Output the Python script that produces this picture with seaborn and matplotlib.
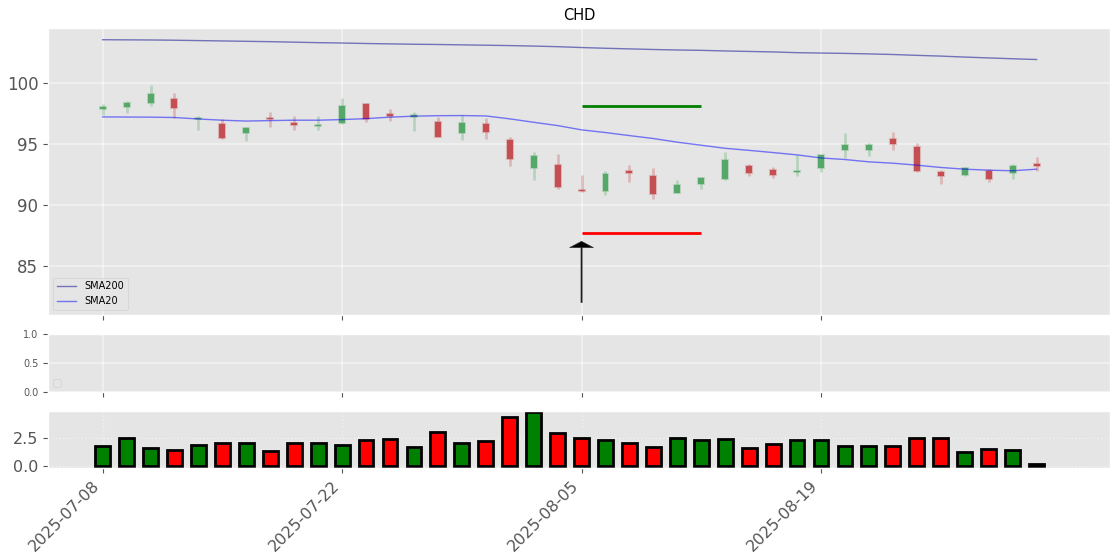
import numpy as np
import pandas as pd
import seaborn as sns
import matplotlib
matplotlib.use('Agg')
import matplotlib.pyplot as plt

# ---- data ----
dates = ['2025-07-08', '2025-07-22', '2025-08-05', '2025-08-19']

opens = [97.90, 98.01, 98.37, 98.69, 97.03, 96.65, 95.89, 97.10, 96.73, 96.45,
         96.70, 98.28, 97.47, 97.25, 96.81, 95.89, 96.65, 95.34, 93.02, 93.30,
         91.20, 91.14, 92.81, 92.40, 90.98, 91.72, 92.13, 93.22, 92.89, 92.70,
         93.05, 94.50, 94.50, 95.42, 94.77, 92.70, 92.45, 92.81, 92.64, 93.35]
closes = [98.05, 98.37, 99.13, 97.98, 97.08, 95.48, 96.32, 97.05, 96.54, 96.50,
          98.09, 97.03, 97.28, 97.30, 95.61, 96.73, 95.97, 93.76, 94.03, 91.47,
          91.15, 92.56, 92.62, 90.93, 91.66, 92.23, 93.71, 92.62, 92.46, 92.76,
          94.09, 94.90, 94.90, 94.99, 92.78, 92.40, 93.02, 92.13, 93.19, 93.19]
highs = [98.31, 98.53, 99.84, 99.18, 97.30, 97.03, 96.40, 97.63, 97.28, 97.28,
         98.75, 98.34, 97.87, 97.63, 97.19, 97.41, 97.14, 95.59, 94.33, 94.17,
         92.45, 92.81, 93.30, 93.05, 92.04, 92.32, 94.33, 93.38, 93.13, 94.09,
         94.14, 95.91, 95.10, 95.99, 95.10, 92.86, 93.13, 92.92, 93.35, 93.95]
lows = [97.36, 97.52, 98.09, 97.17, 96.13, 95.42, 95.23, 96.38, 96.13, 96.13,
        96.67, 96.81, 96.87, 96.05, 95.56, 95.31, 95.40, 93.24, 92.04, 91.31,
        91.09, 90.84, 91.93, 90.49, 90.98, 91.31, 92.07, 92.40, 92.18, 92.40,
        92.70, 93.84, 94.00, 94.50, 92.72, 91.72, 92.40, 91.88, 92.10, 92.81]

sma200 = [103.54, 103.53, 103.52, 103.50, 103.47, 103.44, 103.41, 103.38, 103.34, 103.30,
          103.27, 103.23, 103.20, 103.17, 103.15, 103.12, 103.09, 103.06, 103.02, 102.97,
          102.90, 102.84, 102.79, 102.74, 102.70, 102.67, 102.62, 102.58, 102.54, 102.48,
          102.45, 102.42, 102.38, 102.33, 102.26, 102.20, 102.12, 102.05, 101.98, 101.92]
sma20 = [97.22, 97.21, 97.20, 97.17, 97.05, 96.95, 96.88, 96.92, 96.95, 96.95,
         97.00, 97.08, 97.20, 97.28, 97.32, 97.33, 97.30, 97.06, 96.78, 96.51,
         96.16, 95.94, 95.69, 95.45, 95.15, 94.90, 94.65, 94.48, 94.30, 94.11,
         93.86, 93.73, 93.54, 93.43, 93.27, 93.08, 92.94, 92.86, 92.81, 92.94]

volume = [1.76, 2.50, 1.61, 1.43, 1.85, 2.02, 2.02, 1.34, 2.02, 2.02,
          1.85, 2.32, 2.41, 1.67, 3.01, 2.02, 2.23, 4.35, 4.82, 2.92,
          2.50, 2.32, 2.02, 1.67, 2.50, 2.32, 2.41, 1.61, 1.96, 2.32,
          2.32, 1.79, 1.79, 1.79, 2.50, 2.50, 1.25, 1.52, 1.43, 0.20]
vol_colors = ['green', 'green', 'green', 'red', 'green', 'red', 'green', 'red', 'red', 'green',
              'green', 'red', 'red', 'green', 'red', 'green', 'red', 'red', 'green', 'red',
              'red', 'green', 'red', 'red', 'green', 'green', 'green', 'red', 'red', 'green',
              'green', 'green', 'green', 'red', 'red', 'red', 'green', 'red', 'green', 'black']

signal_idx = 20
signal_end = 25
target_price = 98.09
stop_price = 87.74
arrow_tip = 87.03
arrow_tail = 82.02

# ---- setup ----
plt.style.use('ggplot')
df = pd.DataFrame({'idx': np.arange(len(opens)), 'open': opens, 'close': closes,
                   'high': highs, 'low': lows, 'sma200': sma200, 'sma20': sma20})

fig = plt.figure(figsize=(11.2, 5.6), dpi=100)
ax1 = fig.add_axes([0.0429, 0.4375, 0.9482, 0.5125])
ax2 = fig.add_axes([0.0429, 0.300, 0.9482, 0.1036], sharex=ax1)
ax3 = fig.add_axes([0.0429, 0.1643, 0.9482, 0.1018], sharex=ax1)

# candles
up_c, down_c = '#55a868', '#c44e52'
cols = [up_c if c >= o else down_c for o, c in zip(df['open'], df['close'])]
ax1.vlines(df['idx'], df['low'], df['high'], colors=cols, alpha=0.3, linewidth=2)
body_h = np.maximum(np.abs(df['close'] - df['open']), 0.12)
body_b = np.minimum(df['open'], df['close'])
for x, b, h, c in zip(df['idx'], body_b, body_h, cols):
    ax1.bar(x, h, bottom=b, width=0.25, color=c, edgecolor=matplotlib.colors.to_rgba(c, 0.3),
            linewidth=1.5)

sns.lineplot(data=df, x='idx', y='sma200', ax=ax1, color='darkblue', alpha=0.5,
             linewidth=1, label='SMA200')
sns.lineplot(data=df, x='idx', y='sma20', ax=ax1, color='blue', alpha=0.5,
             linewidth=1, label='SMA20')

ax1.hlines(target_price, signal_idx, signal_end, color='green', linewidth=2)
ax1.hlines(stop_price, signal_idx, signal_end, color='red', linewidth=2)
ax1.annotate('', xy=(signal_idx, arrow_tip), xytext=(signal_idx, arrow_tail),
             arrowprops=dict(facecolor='black', edgecolor='#333333', width=0.8,
                             headwidth=17, headlength=4.5, shrink=0))

ax1.set_title('CHD', fontsize=10.5, color='black')
ax1.set_xlabel('')
ax1.set_ylabel('')
ax1.set_ylim(81.0, 104.5)
ax1.set_yticks([85, 90, 95, 100])
ax1.tick_params(axis='y', labelsize=12)
ax1.tick_params(axis='x', labelbottom=False)
ax1.legend(loc='lower left', fontsize=7)
ax1.grid(True, color='white', alpha=0.5, linewidth=1.2)

# empty middle panel
ax2.set_ylim(0, 1)
ax2.set_yticks([0.0, 0.5, 1.0])
ax2.tick_params(axis='y', labelsize=7)
ax2.tick_params(axis='x', labelbottom=False)
ax2.legend(handles=[], loc='lower left', fontsize=7)
ax2.grid(True, color='white', alpha=0.5, linewidth=1.2)

# volume
ax3.bar(df['idx'], volume, width=0.62, color=vol_colors, edgecolor='black', linewidth=2)
ax3.set_ylim(-0.18, 4.9)
ax3.set_yticks([0.0, 2.5])
ax3.tick_params(axis='y', labelsize=11.5)
ax3.grid(True, color='white', alpha=0.5, linewidth=1.0, linestyle=':')

ax1.set_xlim(-2.28, 42.07)
ax3.set_xticks([0, 10, 20, 30])
ax3.set_xticklabels(dates, rotation=45, ha='right', fontsize=11.5)
ax3.tick_params(axis='x', labelbottom=True)

fig.savefig('out.png', dpi=100)
